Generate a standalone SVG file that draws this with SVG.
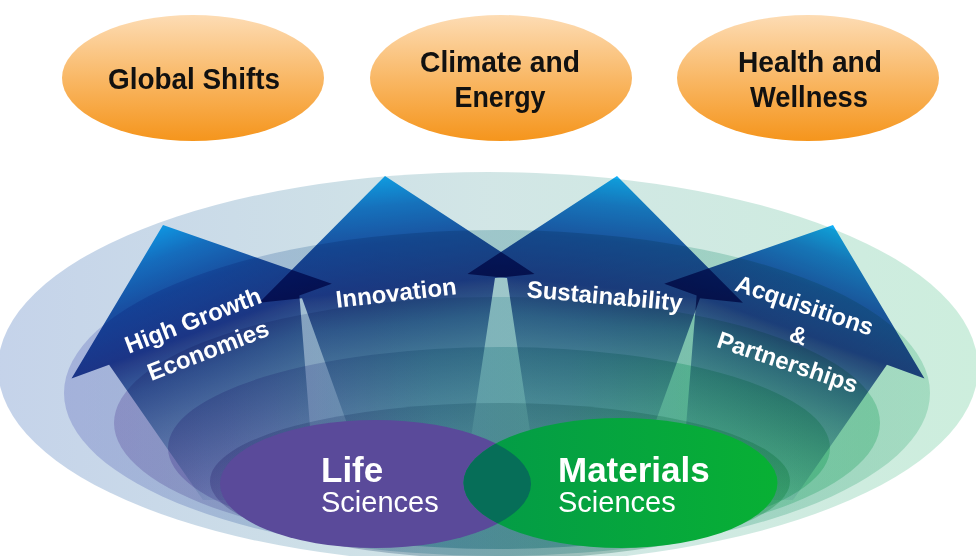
<svg xmlns="http://www.w3.org/2000/svg" width="976" height="556" viewBox="0 0 976 556">
  <defs>
    <style>
      .trend-label { font-family: "Liberation Sans", Arial, sans-serif; font-weight: bold; font-size: 30px; fill: #111; text-anchor: middle; }
      .arrow-label { font-family: "Liberation Sans", Arial, sans-serif; font-weight: bold; font-size: 24px; fill: #fff; text-anchor: middle; }
      .core-bold { font-family: "Liberation Sans", Arial, sans-serif; font-weight: bold; font-size: 35px; fill: #fff; }
      .core-light { font-family: "Liberation Sans", Arial, sans-serif; font-weight: normal; font-size: 29px; fill: #fff; }
      .arrow-shape { fill: url(#arrowGrad); mix-blend-mode: multiply; }
    </style>
    <linearGradient id="trendGrad" x1="0" y1="0" x2="0" y2="1">
      <stop offset="0" stop-color="#fddcb4"/>
      <stop offset="0.5" stop-color="#f9b866"/>
      <stop offset="1" stop-color="#f5951c"/>
    </linearGradient>
    <!-- bowl rings: blue-violet on the left, teal in the middle, green on the right -->
    <linearGradient id="ring1" x1="0" y1="0" x2="1" y2="0">
      <stop offset="0" stop-color="#174fab"/>
      <stop offset="0.5" stop-color="#4b9b9b"/>
      <stop offset="1" stop-color="#37bb77"/>
    </linearGradient>
    <linearGradient id="ring2" x1="0" y1="0" x2="1" y2="0">
      <stop offset="0" stop-color="#545eb8"/>
      <stop offset="0.15" stop-color="#4a66b0"/>
      <stop offset="0.4" stop-color="#2a7890"/>
      <stop offset="0.6" stop-color="#218282"/>
      <stop offset="0.8" stop-color="#35a07c"/>
      <stop offset="1" stop-color="#41b27c"/>
    </linearGradient>
    <linearGradient id="ring3" x1="0" y1="0" x2="1" y2="0">
      <stop offset="0" stop-color="#503f95"/>
      <stop offset="0.15" stop-color="#4a5098"/>
      <stop offset="0.4" stop-color="#3a8296"/>
      <stop offset="0.6" stop-color="#3c9393"/>
      <stop offset="0.8" stop-color="#20a06a"/>
      <stop offset="1" stop-color="#149d55"/>
    </linearGradient>
    <linearGradient id="ring4" x1="0" y1="0" x2="1" y2="0">
      <stop offset="0" stop-color="#3a2a87"/>
      <stop offset="0.15" stop-color="#3a3a90"/>
      <stop offset="0.4" stop-color="#1a6a80"/>
      <stop offset="0.6" stop-color="#127272"/>
      <stop offset="0.8" stop-color="#008c50"/>
      <stop offset="1" stop-color="#009446"/>
    </linearGradient>
    <linearGradient id="ring5" x1="0" y1="0" x2="1" y2="0">
      <stop offset="0" stop-color="#2a2070"/>
      <stop offset="0.4" stop-color="#205a70"/>
      <stop offset="0.6" stop-color="#206060"/>
      <stop offset="1" stop-color="#008032"/>
    </linearGradient>
    <!-- arrow body in its own rotated frame: tip at 0, barbs at 113, shaft fades out below -->
    <linearGradient id="arrowGrad" gradientUnits="userSpaceOnUse" x1="0" y1="0" x2="0" y2="330">
      <stop offset="0" stop-color="#12b0f8"/>
      <stop offset="0.09" stop-color="#1a80d0"/>
      <stop offset="0.2" stop-color="#1f5cb0"/>
      <stop offset="0.34" stop-color="#2a4a9e"/>
      <stop offset="0.36" stop-color="#3a56a0"/>
      <stop offset="0.45" stop-color="#5a86b8"/>
      <stop offset="0.56" stop-color="#86aecc"/>
      <stop offset="0.68" stop-color="#b4cfe0"/>
      <stop offset="0.82" stop-color="#e8f0f6"/>
      <stop offset="0.9" stop-color="#ffffff"/>
    </linearGradient>
    <linearGradient id="materialsGrad" x1="0" y1="0" x2="1" y2="0">
      <stop offset="0" stop-color="#039a48"/>
      <stop offset="1" stop-color="#08b034"/>
    </linearGradient>
    <clipPath id="lifeClip">
      <ellipse cx="375.5" cy="484" rx="155.5" ry="64"/>
    </clipPath>
  </defs>

  <rect width="976" height="556" fill="#ffffff"/>

  <!-- trend ovals -->
  <g id="trend-global-shifts">
    <ellipse cx="193" cy="78" rx="131" ry="63" fill="url(#trendGrad)"/>
    <text class="trend-label" x="194" y="89" textLength="172" lengthAdjust="spacingAndGlyphs">Global Shifts</text>
  </g>
  <g id="trend-climate-energy">
    <ellipse cx="501" cy="78" rx="131" ry="63" fill="url(#trendGrad)"/>
    <text class="trend-label" x="500" y="72" textLength="160" lengthAdjust="spacingAndGlyphs">Climate and</text>
    <text class="trend-label" x="500" y="107" textLength="91" lengthAdjust="spacingAndGlyphs">Energy</text>
  </g>
  <g id="trend-health-wellness">
    <ellipse cx="808" cy="78" rx="131" ry="63" fill="url(#trendGrad)"/>
    <text class="trend-label" x="810" y="72" textLength="144" lengthAdjust="spacingAndGlyphs">Health and</text>
    <text class="trend-label" x="809" y="107" textLength="118" lengthAdjust="spacingAndGlyphs">Wellness</text>
  </g>

  <!-- nested bowl rings -->
  <g id="bowl">
    <ellipse cx="488" cy="368" rx="490" ry="196" fill="url(#ring1)" fill-opacity="0.25"/>
    <ellipse cx="497" cy="393" rx="433" ry="163" fill="url(#ring2)" fill-opacity="0.3"/>
    <ellipse cx="497" cy="423" rx="383" ry="126" fill="url(#ring3)" fill-opacity="0.3"/>
    <ellipse cx="499" cy="448" rx="331" ry="101" fill="url(#ring4)" fill-opacity="0.3"/>
    <ellipse cx="500" cy="481" rx="290" ry="78" fill="url(#ring5)" fill-opacity="0.3"/>
  </g>

  <!-- rising arrows -->
  <g id="arrow-high-growth">
    <polygon class="arrow-shape" transform="translate(163 225) rotate(-20)" points="0,0 138.5,113 104,113 49.7,310.7 -56.5,272.1 -98.5,113 -138.5,113"/>
  </g>
  <g id="arrow-innovation">
    <polygon class="arrow-shape" transform="translate(385 176) rotate(-6)" points="0,0 138.5,113 98.7,113 42.4,330.2 -44.3,321.1 -95.3,113 -138.5,113"/>
  </g>
  <g id="arrow-sustainability">
    <polygon class="arrow-shape" transform="translate(617 176) rotate(6)" points="0,0 138.5,113 95.3,113 44.3,321.1 -42.4,330.2 -98.7,113 -138.5,113"/>
  </g>
  <g id="arrow-acquisitions">
    <polygon class="arrow-shape" transform="translate(833 225) rotate(20)" points="0,0 138.5,113 98.5,113 56.5,272.1 -49.7,310.7 -104,113 -138.5,113"/>
  </g>

  <!-- arrow labels -->
  <g id="labels">
    <text class="arrow-label" transform="rotate(-21 196 328)" x="196" y="328">High Growth</text>
    <text class="arrow-label" transform="rotate(-21 211 358)" x="211" y="358">Economies</text>
    <text class="arrow-label" transform="rotate(-6.5 397 301)" x="397" y="301">Innovation</text>
    <text class="arrow-label" transform="rotate(5 604 304)" x="604" y="304">Sustainability</text>
    <text class="arrow-label" transform="rotate(18.5 802 313)" x="802" y="313">Acquisitions</text>
    <text class="arrow-label" transform="rotate(18.5 796 343)" x="796" y="343">&amp;</text>
    <text class="arrow-label" transform="rotate(18.5 785 370)" x="785" y="370">Partnerships</text>
  </g>

  <!-- core businesses -->
  <g id="core-life-sciences">
    <ellipse cx="375.5" cy="484" rx="155.5" ry="64" fill="#5a4a9a"/>
  </g>
  <g id="core-materials-sciences">
    <ellipse cx="620.5" cy="483" rx="157" ry="65" fill="url(#materialsGrad)"/>
  </g>
  <g id="core-overlap">
    <ellipse cx="620.5" cy="483" rx="157" ry="65" fill="#066e58" clip-path="url(#lifeClip)"/>
  </g>
  <g id="core-labels">
    <text class="core-bold" x="321" y="482">Life</text>
    <text class="core-light" x="321" y="512">Sciences</text>
    <text class="core-bold" x="558" y="482">Materials</text>
    <text class="core-light" x="558" y="512">Sciences</text>
  </g>
</svg>
